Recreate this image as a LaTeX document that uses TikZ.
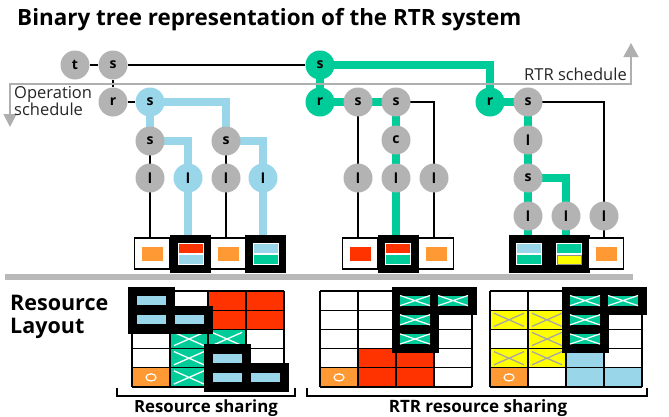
\documentclass[tikz,border=0pt]{standalone}
\usepackage{fontspec}
\setmainfont{Open Sans}
\usetikzlibrary{arrows.meta}
\pgfdeclarelayer{background}
\pgfsetlayers{background,main}

\definecolor{nodegray}{RGB}{179,179,179}
\definecolor{rtrgreen}{RGB}{0,204,153}
\definecolor{skyblue}{RGB}{153,214,234}
\definecolor{hotred}{RGB}{255,51,0}
\definecolor{orng}{RGB}{255,153,51}
\definecolor{yel}{RGB}{255,255,0}
\definecolor{schedgray}{RGB}{175,175,175}
\definecolor{bargray}{RGB}{185,185,185}

% filled cells of a 4x5 layout grid: origin x, colour, list of col/row
\newcommand\cellfill[3]{%
  \foreach \cx/\ry in {#3} \fill[#2] (#1+\cx*38,291+\ry*19.2) rectangle ++(38,19.2);}
% cross drawn inside full cells
\newcommand\cellcross[3]{%
  \foreach \cx/\ry in {#3} \draw[#2,line width=1.3pt]
    (#1+\cx*38+4,291+\ry*19.2+3) -- (#1+\cx*38+34,291+\ry*19.2+16.2)
    (#1+\cx*38+4,291+\ry*19.2+16.2) -- (#1+\cx*38+34,291+\ry*19.2+3);}
% grid lines
\newcommand\cellgrid[1]{%
  \foreach \i in {0,...,4} \draw[gridline] (#1+\i*38,291) -- ++(0,96);
  \foreach \j in {0,...,5} \draw[gridline] (#1,291+\j*19.2) -- ++(152,0);}
% configured region: black frame around the cell
\newcommand\cellframe[2]{%
  \foreach \cx/\ry in {#2} \fill[black] (#1+\cx*38-4.5,291+\ry*19.2-4.5) rectangle ++(47,28.2);}
% blue module inside a framed cell
\newcommand\cellblue[2]{%
  \foreach \cx/\ry in {#2} \fill[skyblue] (#1+\cx*38+4.5,291+\ry*19.2+5) rectangle ++(29,9.2);}
% green module (with cross) inside a framed cell
\newcommand\cellgreen[2]{%
  \foreach \cx/\ry in {#2} {
    \fill[rtrgreen] (#1+\cx*38+4,291+\ry*19.2+4.5) rectangle ++(30,10.2);
    \draw[white,line width=1.2pt]
      (#1+\cx*38+4,291+\ry*19.2+4.5) -- ++(30,10.2)
      (#1+\cx*38+4,291+\ry*19.2+14.7) -- ++(30,-10.2);}}
% idle cell marker
\newcommand\cellring[2]{%
  \draw[white,line width=1.2pt] (#1+#2*38+19,291+4*19.2+9.6) ellipse (5 and 3.6);}
% configured leaf: black frame with two modules
\newcommand\leafpair[4]{%
  \node[kbox] (#1) at (#2,254) {};
  \fill[white] (#2-13,243) rectangle (#2+13,265);
  \fill[#3] (#2-12,244.3) rectangle (#2+12,253);
  \fill[#4] (#2-12,255.3) rectangle (#2+12,264);}

\begin{document}
\begin{tikzpicture}[x=1pt,y=-1pt,
  nd/.style={circle,minimum size=29pt,inner sep=0pt,
    font=\bfseries\fontsize{14}{14}\selectfont},
  gn/.style={nd,fill=nodegray},
  grn/.style={nd,fill=rtrgreen},
  bl/.style={nd,fill=skyblue},
  thinlink/.style={line width=1.1pt,black},
  greenlink/.style={line width=7.5pt,rtrgreen},
  bluelink/.style={line width=7.5pt,skyblue},
  sched/.style={line width=1.6pt,schedgray},
  wbox/.style={draw=black,line width=1.2pt,fill=white,minimum width=35pt,
    minimum height=31pt,inner sep=0pt},
  kbox/.style={fill=black,minimum width=41pt,minimum height=38pt,inner sep=0pt},
  gridline/.style={line width=1.2pt,black},
]
\useasboundingbox (0,0) rectangle (669,416);

% title
\node[anchor=base west,inner sep=0pt,font=\bfseries\fontsize{22.4}{22.4}\selectfont]
  (title) at (17,25) {Binary tree representation of the RTR system};

% schedule axes
\coordinate (opdown) at (10,127);
\coordinate (schedL) at (10,84);
\coordinate (schedR) at (631,84);
\coordinate (rtrup) at (631,43);
\draw[sched,{Triangle[width=13pt,length=13pt]}-{Triangle[width=15pt,length=14pt]}]
  (opdown) -- (schedL) -- (schedR) -- (rtrup);
\node[anchor=north west,inner sep=0pt,align=left,text=black!85,
  font=\fontsize{16.5}{17}\selectfont] (optext) at (14,86) {Operation\\schedule};
\node[anchor=base east,inner sep=0pt,text=black!85,
  font=\fontsize{16.5}{16.5}\selectfont] (rtrtext) at (627,80) {RTR schedule};

% tree nodes
\node[gn] (t) at (75,65) {t};
\node[gn] (s0) at (113,65) {s};
\node[grn] (S1) at (320,65) {s};
\node[gn] (r0) at (113,102) {r};
\node[bl] (a1) at (150,102) {s};
\node[gn] (a2) at (150,141) {s};
\node[gn] (a3) at (226,141) {s};
\node[gn] (a4) at (150,178) {l};
\node[bl] (a5) at (188,178) {l};
\node[gn] (a6) at (226,178) {l};
\node[bl] (a7) at (263,178) {l};
\node[grn] (b0) at (320,102) {r};
\node[gn] (b1) at (358,102) {s};
\node[gn] (b2) at (396,102) {s};
\node[gn] (b3) at (396,140) {c};
\node[gn] (b4) at (358,178) {l};
\node[gn] (b5) at (396,178) {l};
\node[gn] (b6) at (434,178) {l};
\node[grn] (c0) at (490,102) {r};
\node[gn] (c1) at (528,102) {s};
\node[gn] (c2) at (528,140) {l};
\node[gn] (c3) at (528,178) {s};
\node[gn] (c4) at (528,216) {l};
\node[gn] (c5) at (566,216) {l};
\node[gn] (c6) at (604,216) {l};

% leaves
\node[wbox] (wa1) at (152,253.5) {};
\fill[orng] (141.5,247) rectangle (162.5,261);
\leafpair{ka1}{190.5}{hotred}{skyblue}
\node[wbox] (wa2) at (228,253.5) {};
\fill[orng] (217.5,247) rectangle (238.5,261);
\leafpair{ka2}{265.5}{skyblue}{rtrgreen}
\node[wbox] (wb1) at (360,253.5) {};
\fill[hotred] (349.5,247) rectangle (370.5,261);
\leafpair{kb1}{398}{hotred}{rtrgreen}
\node[wbox] (wb2) at (436,253.5) {};
\fill[orng] (425.5,247) rectangle (446.5,261);
\leafpair{kc1}{529}{skyblue}{rtrgreen}
\leafpair{kc2}{569}{rtrgreen}{yel}
\draw[black!45,line width=0.8pt] (557,255.3) rectangle (581,264);
\node[wbox] (wc1) at (606,253.5) {};
\fill[orng] (595.5,247) rectangle (616.5,261);

% tree links
\begin{pgfonlayer}{background}
  \draw[thinlink] (t) -- (s0) -- (S1);
  \draw[thinlink] (s0) -- (r0) -- (a1);
  \draw[bluelink] (a1.center) -- (a2.center);
  \draw[bluelink] (a1.center) -| (a3.center);
  \draw[bluelink] (a2.center) -| (a5.center) -- (a5 |- ka1.center);
  \draw[bluelink] (a3.center) -| (a7.center) -- (a7 |- ka2.center);
  \draw[thinlink] (a2.center) -- (a4.center) -- (a4 |- wa1.north);
  \draw[thinlink] (a3.center) -- (a6.center) -- (a6 |- wa2.north);
  \draw[greenlink] (S1.center) -- (b0.center);
  \draw[greenlink] (S1.center) -| (c0.center);
  \draw[greenlink] (b0.center) -- (b1.center) -- (b2.center) -- (b3.center)
    -- (b5.center) -- (b5 |- kb1.center);
  \draw[thinlink] (b1.center) -- (b4.center) -- (b4 |- wb1.north);
  \draw[thinlink] (b2.center) -| (b6.center) -- (b6 |- wb2.north);
  \draw[greenlink] (c0.center) -- (c1.center) -- (c2.center) -- (c3.center)
    -- (c4.center) -- (c4 |- kc1.center);
  \draw[greenlink] (c3.center) -| (c5.center) -- (c5 |- kc2.center);
  \draw[thinlink] (c1.center) -| (c6.center) -- (c6 |- wc1.north);
\end{pgfonlayer}

% divider
\draw[line width=6pt,bargray] (5,277) -- (633,277);

\node[anchor=base west,inner sep=0pt,align=left,
  font=\bfseries\fontsize{21.5}{23}\selectfont] (layout) at (10,333) {Resource\\Layout};

% layout grid: resource sharing
\cellfill{132}{hotred}{2/0,3/0,2/1,3/1}
\cellfill{132}{rtrgreen}{1/2,2/2,1/3,1/4}
\cellfill{132}{orng}{0/4}
\cellgrid{132}
\cellcross{132}{white}{1/2,2/2,1/3,1/4}
\cellring{132}{0}
\cellframe{132}{0/0,0/1,1/1,2/3,2/4,3/4}
\cellblue{132}{0/0,0/1,1/1,2/3,2/4,3/4}

% layout grid: RTR sharing, first state
\cellfill{320}{hotred}{1/3,2/3,1/4,2/4}
\cellfill{320}{orng}{0/4}
\cellgrid{320}
\cellring{320}{0}
\cellframe{320}{2/0,3/0,2/1,2/2}
\cellgreen{320}{2/0,3/0,2/1,2/2}

% layout grid: RTR sharing, second state
\cellfill{490}{yel}{0/1,1/1,1/2,0/3,1/3}
\cellfill{490}{skyblue}{2/3,2/4,3/4}
\cellfill{490}{orng}{0/4}
\cellgrid{490}
\cellcross{490}{black!35}{0/1,1/1,1/2,0/3,1/3}
\cellring{490}{0}
\cellframe{490}{2/0,3/0,2/1,2/2}
\cellgreen{490}{2/0,3/0,2/1,2/2}

% brackets
\draw[line width=2pt] (117,388) -- (117,396) -- (295,396) -- (295,388);
\node[anchor=base,inner sep=0pt,font=\bfseries\fontsize{16.8}{16.8}\selectfont]
  (rslabel) at (206,412) {Resource sharing};
\draw[line width=2pt] (307,388) -- (307,396) -- (647,396) -- (647,388);
\node[anchor=base,inner sep=0pt,font=\bfseries\fontsize{17}{17}\selectfont]
  (rtrlabel) at (478,412) {RTR resource sharing};
\end{tikzpicture}
\end{document}
